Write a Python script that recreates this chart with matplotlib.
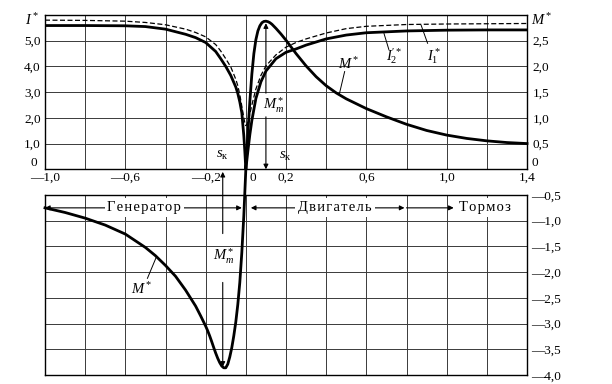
import matplotlib
matplotlib.use('Agg')
import matplotlib.pyplot as plt
import numpy as np

plt.rcParams['font.family'] = ['Liberation Serif', 'DejaVu Serif']
plt.rcParams['mathtext.fontset'] = 'custom'
plt.rcParams['mathtext.rm'] = 'Liberation Serif'
plt.rcParams['mathtext.it'] = 'Liberation Serif:italic'
plt.rcParams['mathtext.bf'] = 'Liberation Serif:bold'

# ---------------- data ----------------
# slip s, stator current I1* (dashed), rotor current I2'* (solid)
s_cur = [-1.0, -0.8, -0.6, -0.5, -0.4, -0.3, -0.25, -0.2, -0.15, -0.125, -0.1,
         -0.075, -0.05, -0.04, -0.03, -0.02, -0.01, -0.005, 0.0, 0.005, 0.01,
         0.02, 0.03, 0.05, 0.075, 0.1, 0.15, 0.2, 0.25, 0.3, 0.4, 0.5, 0.6,
         0.8, 1.0, 1.2, 1.4]
i2 = [5.59, 5.59, 5.58, 5.55, 5.45, 5.25, 5.12, 4.93, 4.58, 4.3, 4.0,
      3.65, 3.2, 2.95, 2.62, 2.2, 1.3, 0.7, 0.0, 0.35, 0.7,
      1.35, 1.9, 2.75, 3.4, 3.82, 4.3, 4.55, 4.68, 4.83, 5.07, 5.22, 5.31,
      5.38, 5.41, 5.42, 5.42]
i1 = [5.8, 5.79, 5.76, 5.71, 5.62, 5.45, 5.32, 5.15, 4.85, 4.6, 4.3,
      3.98, 3.5, 3.25, 2.9, 2.45, 2.0, 1.8, 1.7, 1.75, 1.85,
      2.15, 2.5, 3.12, 3.65, 4.02, 4.45, 4.75, 4.93, 5.07, 5.3, 5.47, 5.56,
      5.63, 5.65, 5.66, 5.67]

# slip s, torque M*
s_m = [-1.0, -0.9, -0.8, -0.7, -0.6, -0.5, -0.45, -0.4, -0.35, -0.3, -0.25,
       -0.225, -0.2, -0.19, -0.18, -0.17, -0.16, -0.15, -0.14, -0.13, -0.12,
       -0.11, -0.1, -0.09, -0.08, -0.07, -0.06, -0.05, -0.04, -0.03, -0.02,
       -0.01, 0.0, 0.01, 0.02, 0.03, 0.04, 0.05, 0.06, 0.07, 0.08, 0.09, 0.1,
       0.11, 0.12, 0.13, 0.14, 0.15, 0.175, 0.2, 0.25, 0.3, 0.35, 0.4, 0.45,
       0.5, 0.6, 0.7, 0.8, 0.9, 1.0, 1.1, 1.2, 1.3, 1.4]
m = [-0.75, -0.84, -0.95, -1.085, -1.26, -1.52, -1.68, -1.87, -2.08, -2.35, -2.66,
     -2.85, -3.05, -3.14, -3.24, -3.35, -3.465, -3.575, -3.675, -3.76, -3.825,
     -3.86, -3.86, -3.79, -3.65, -3.47, -3.24, -2.97, -2.63, -2.2, -1.62,
     -0.9, 0.0, 0.7, 1.32, 1.85, 2.25, 2.52, 2.69, 2.79, 2.85, 2.875, 2.88,
     2.87, 2.85, 2.82, 2.78, 2.74, 2.63, 2.51, 2.25, 2.01, 1.8, 1.625, 1.485,
     1.37, 1.18, 1.02, 0.875, 0.755, 0.665, 0.6, 0.553, 0.52, 0.5]

x_ticks = [-1.0, -0.8, -0.6, -0.4, -0.2, 0.0, 0.2, 0.4, 0.6, 0.8, 1.0, 1.2, 1.4]
x_labels = ['—1,0', '', '—0,6', '', '—0,2', '', '0,2', '', '0,6', '', '1,0', '', '1,4']
m_ticks_top = [0.0, 0.5, 1.0, 1.5, 2.0, 2.5, 3.0]
i_labels = ['', '1,0', '2,0', '3,0', '4,0', '5,0', '']
m_labels_top = ['', '0,5', '1,0', '1,5', '2,0', '2,5', '']
m_ticks_bot = [-4.0, -3.5, -3.0, -2.5, -2.0, -1.5, -1.0, -0.5]
m_labels_bot = ['—4,0', '—3,5', '—3,0', '—2,5', '—2,0', '—1,5', '—1,0', '—0,5']
zones = ['Генератор', 'Двигатель', 'Тормоз']

# ---------------- layout ----------------
W, H = 612, 384
fig = plt.figure(figsize=(W / 100, H / 100), dpi=100)


def box(x0, y0, x1, y1):
    return [x0 / W, 1 - y1 / H, (x1 - x0) / W, (y1 - y0) / H]


X0, X1 = 45, 527
Y_TOP, Y_BOT = 15, 375
ppu = (Y_BOT - Y_TOP) / 7.0
y_zero = Y_TOP + 3 * ppu
y_m05 = y_zero + 0.5 * ppu

ax_bot = fig.add_axes(box(X0, y_m05, X1, Y_BOT))
ax_top = fig.add_axes(box(X0, Y_TOP, X1, y_zero))

grid_kw = dict(color='#3a3a3a', lw=0.7)
fs = 9.5
for ax in (ax_top, ax_bot):
    ax.set_xlim(-1.0, 1.4)
    ax.set_xticks(x_ticks)
    ax.grid(True, **grid_kw)
    ax.set_axisbelow(True)
    for sp in ax.spines.values():
        sp.set_linewidth(1.0)
        sp.set_color('black')
    ax.tick_params(length=0)

# top panel
ax_top.set_ylim(0, 3.0)
ax_top.set_yticks(m_ticks_top)
ax_top.set_yticklabels(i_labels, fontsize=fs)
ax_top.set_xticklabels(x_labels, fontsize=fs)
ax_top.tick_params(axis='x', pad=2)
ax_top.tick_params(axis='y', pad=3)
ax_r = ax_top.twinx()
ax_r.set_ylim(0, 3.0)
ax_r.set_yticks(m_ticks_top)
ax_r.set_yticklabels(m_labels_top, fontsize=fs)
ax_r.tick_params(length=0, pad=4)
for sp in ax_r.spines.values():
    sp.set_visible(False)

# zero labels sit just above the axis line, the x "0" just right of s = 0
ax_top.annotate('0', xy=(0, 0), xycoords=('axes fraction', 'data'),
                xytext=(-6, 0), textcoords='offset points', ha='right', va='bottom',
                fontsize=fs)
ax_top.annotate('0', xy=(1, 0), xycoords=('axes fraction', 'data'),
                xytext=(3, 0), textcoords='offset points', ha='left', va='bottom',
                fontsize=fs)
ax_top.annotate('0', xy=(0.0, 0), xycoords=('data', 'axes fraction'),
                xytext=(5, -2), textcoords='offset points', ha='center', va='top',
                fontsize=fs)

ax_top.annotate('$I^*$', xy=(0, 2.9), xycoords=('axes fraction', 'data'),
                xytext=(-4, 0), textcoords='offset points', ha='right', va='center',
                fontsize=fs + 1)
ax_top.annotate('$M^*$', xy=(1, 2.9), xycoords=('axes fraction', 'data'),
                xytext=(3, 0), textcoords='offset points', ha='left', va='center',
                fontsize=fs + 1)

# bottom panel
ax_bot.set_ylim(-4.0, -0.5)
ax_bot.set_yticks(m_ticks_bot)
ax_bot.yaxis.tick_right()
ax_bot.set_yticklabels(m_labels_bot, fontsize=fs)
ax_bot.tick_params(axis='y', pad=3)
ax_bot.set_xticklabels([])

# curves
ax_top.plot(s_cur, np.array(i1) / 2.0, color='black', lw=0.9, ls=(0, (4, 2)), zorder=4)
ax_top.plot(s_cur, np.array(i2) / 2.0, color='black', lw=2.0, zorder=4,
            solid_joinstyle='round')
ax_top.plot(s_m, m, color='black', lw=2.0, zorder=5, clip_on=False,
            solid_joinstyle='round')

# critical points from the data
m_arr = np.array(m)
k_mot = int(np.argmax(m_arr))
k_gen = int(np.argmin(m_arr))
sk_mot, mm_mot = s_m[k_mot], m_arr[k_mot]
sk_gen, mm_gen = s_m[k_gen] - 0.005, m_arr[k_gen]

arw = dict(arrowstyle='-|>', color='black', lw=0.8, mutation_scale=7,
           shrinkA=0, shrinkB=0)
# motor M_m / s_k
ax_top.annotate('', xy=(sk_mot, mm_mot - 0.04), xytext=(sk_mot, 1.48), arrowprops=arw)
ax_top.annotate('', xy=(sk_mot, 0.0), xytext=(sk_mot, 1.02), arrowprops=arw)
ax_top.text(sk_mot + 0.04, 1.25, r'$M_m^*$', fontsize=fs + 1, ha='center', va='center')
ax_top.text(sk_mot + 0.095, 0.24, r'$s_{\mathrm{к}}$', fontsize=fs + 1, ha='center', va='center')
# generator M_m / s_k
ax_top.annotate('', xy=(sk_gen, -0.05), xytext=(sk_gen, -1.25), arrowprops=arw,
                annotation_clip=False)
ax_top.annotate('', xy=(sk_gen, mm_gen + 0.02), xytext=(sk_gen, -2.2), arrowprops=arw,
                annotation_clip=False)
ax_top.text(sk_gen + 0.005, -1.7, r'$M_m^*$', fontsize=fs + 1, ha='center', va='center',
            clip_on=False)
ax_top.text(sk_gen, 0.26, r'$s_{\mathrm{к}}$', fontsize=fs + 1, ha='center', va='center')

# curve labels in the top panel
lab_kw = dict(fontsize=fs + 1, ha='center', va='center')
ax_top.text(0.74, 2.2, r"$I_2^{\prime *}$", **lab_kw)
ax_top.plot([0.688, 0.712], [2.64, 2.33], color='black', lw=0.7)
ax_top.text(0.935, 2.2, r"$I_1^*$", **lab_kw)
ax_top.plot([0.873, 0.905], [2.8, 2.45], color='black', lw=0.7)
ax_top.text(0.51, 2.04, r"$M^*$", **lab_kw)
ax_top.plot([0.492, 0.466], [1.9, 1.47], color='black', lw=0.7)

# bottom panel: curve label
ax_bot.text(-0.52, -2.33, r"$M^*$", **lab_kw)
ax_bot.plot([-0.49, -0.445], [-2.12, -1.7], color='black', lw=0.7)

# mode zones (row between -0.5 and -1.0)
zy = -0.75
zarw2 = dict(arrowstyle='<|-|>', color='black', lw=0.8, mutation_scale=7,
             shrinkA=0, shrinkB=0)
zarw1 = dict(arrowstyle='<|-', color='black', lw=0.8, mutation_scale=7,
             shrinkA=0, shrinkB=0)
ax_bot.annotate('', xy=(-1.0, zy), xytext=(-0.02, zy), arrowprops=zarw2)
ax_bot.annotate('', xy=(0.025, zy), xytext=(0.79, zy), arrowprops=zarw2)
ax_bot.annotate('', xy=(0.8, zy), xytext=(1.035, zy), arrowprops=zarw1)
bb = dict(boxstyle='square,pad=0.2', fc='white', ec='none')
hair = '\u200a'
for name, xc in zip(zones, [-0.505, 0.445, 1.19]):
    ax_bot.text(xc, zy, hair.join(name), fontsize=10.5, ha='center', va='center',
                bbox=bb, zorder=6)

fig.savefig('out.png', dpi=100)
